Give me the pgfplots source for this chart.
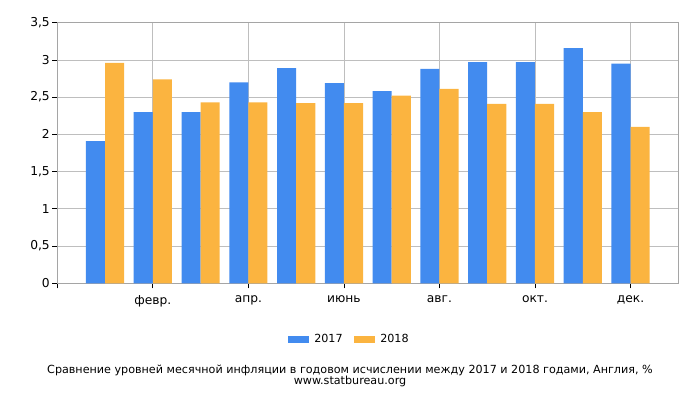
\documentclass[border=0pt]{standalone}
\usepackage{fontspec}
\setmainfont{DejaVu Sans}
\usepackage{pgfplots}
\pgfplotsset{compat=1.18}
\definecolor{c2017}{RGB}{66,139,239}
\definecolor{c2018}{RGB}{251,180,64}
\definecolor{gridc}{RGB}{190,190,190}
\definecolor{framec}{RGB}{165,165,165}

\begin{document}
\begin{tikzpicture}
\useasboundingbox (0,0) rectangle (700bp,400bp);
\begin{axis}[
    at={(57.3bp,116.7bp)}, anchor=south west,
    scale only axis, width=621bp, height=260.6bp,
    xmin=0, xmax=13, ymin=0, ymax=3.5,
    xtick={0,2,4,6,8,10,12},
    xticklabels={,февр.,апр.,июнь,авг.,окт.,дек.},
    ytick={0,0.5,1,1.5,2,2.5,3,3.5},
    /pgf/number format/use comma,
    /pgf/number format/assume math mode=true,
    tick pos=left,
    tick align=outside,
    major tick length=5bp,
    tick style={black, line width=0.8pt},
    grid=major,
    grid style={gridc, line width=0.8pt},
    axis line style={framec, line width=0.8pt},
    tick label style={font=\fontsize{12.3}{14}\selectfont},
    yticklabel style={xshift=1bp},
    xticklabel style={yshift=-4bp},
    legend style={at={(0.4700,-0.2157)}, anchor=center, draw=none,
        legend columns=2, font=\fontsize{11.2}{13}\selectfont,
        nodes={inner sep=2bp},
        /tikz/every odd column/.append style={column sep=3bp},
        /tikz/every even column/.append style={column sep=9bp}},
    legend image code/.code={\fill[#1] (0bp,-3.8bp) rectangle (21.6bp,3.8bp);},
]
% 2017
\addplot[ybar, bar width=0.4, bar shift=-0.2, fill=c2017, draw=none]
    coordinates {
    (1,1.91) (2,2.30) (3,2.30) (4,2.70) (5,2.89) (6,2.69)
    (7,2.58) (8,2.88) (9,2.97) (10,2.97) (11,3.16) (12,2.95)
    };
\addlegendentry{2017}
% 2018
\addplot[ybar, bar width=0.4, bar shift=0.2, fill=c2018, draw=none]
    coordinates {
    (1,2.96) (2,2.74) (3,2.43) (4,2.43) (5,2.42) (6,2.42)
    (7,2.52) (8,2.61) (9,2.41) (10,2.41) (11,2.30) (12,2.10)
    };
\addlegendentry{2018}
\end{axis}
\node[font=\fontsize{11.2}{13}\selectfont] at (350bp,30bp)
    {Сравнение уровней месячной инфляции в годовом исчислении между 2017 и 2018 годами, Англия, \%};
\node[font=\fontsize{11.2}{13}\selectfont] at (350bp,18.5bp) {www.statbureau.org};
\end{tikzpicture}
\end{document}
